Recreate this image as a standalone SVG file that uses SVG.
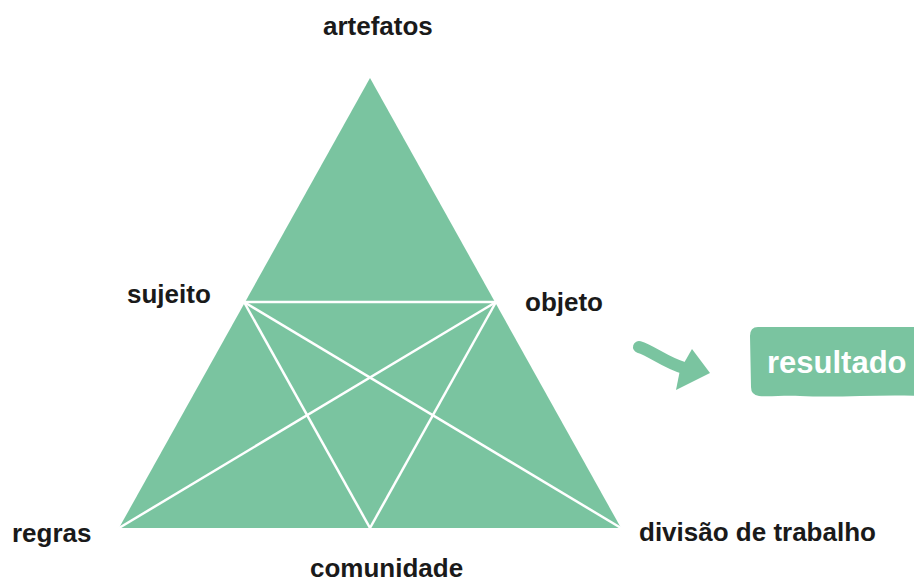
<svg xmlns="http://www.w3.org/2000/svg" width="914" height="583" viewBox="0 0 914 583">
<style>
.lbl{font-family:"Liberation Sans",Arial,sans-serif;font-weight:bold;font-size:26px;fill:#1a1a1a}
.green{fill:#7ac4a0}
.wl{stroke:#ffffff;stroke-width:2.5;fill:none}
</style>
<rect width="914" height="583" fill="#ffffff"/>
<g id="triangle">
<polygon class="green" points="370,78 621,528 119,528"/>
</g>
<g id="connectors">
<line class="wl" x1="244" y1="302" x2="496" y2="302"/>
<line class="wl" x1="244" y1="302" x2="621" y2="528"/>
<line class="wl" x1="496" y1="302" x2="119" y2="528"/>
<line class="wl" x1="244" y1="302" x2="370" y2="528"/>
<line class="wl" x1="496" y1="302" x2="370" y2="528"/>
<path id="arrow-body" d="M639,347 C652,351 666,363 684,368" stroke="#7ac4a0" stroke-width="12" stroke-linecap="round" fill="none"/>
<polygon class="green" points="692,349 710,373 676,390 680,370"/>
</g>
<g id="node-artefatos"><text class="lbl" x="323" y="35">artefatos</text></g>
<g id="node-sujeito"><text class="lbl" x="127" y="303">sujeito</text></g>
<g id="node-objeto"><text class="lbl" x="525" y="311">objeto</text></g>
<g id="node-regras"><text class="lbl" x="12" y="542">regras</text></g>
<g id="node-comunidade"><text class="lbl" x="310" y="577">comunidade</text></g>
<g id="node-divisao"><text class="lbl" x="639" y="541">divisão de trabalho</text></g>
<g id="node-resultado">
<path class="green" d="M758,327 L920,327 L920,396 C880,394 840,398 800,396 C785,395 770,397 759,396 Q751,395 751,387 L750,336 Q750,327 758,327 Z"/>
<text x="767" y="373" style="font-family:'Liberation Sans',Arial,sans-serif;font-weight:bold;font-size:31px;fill:#ffffff">resultado</text>
</g>
</svg>
